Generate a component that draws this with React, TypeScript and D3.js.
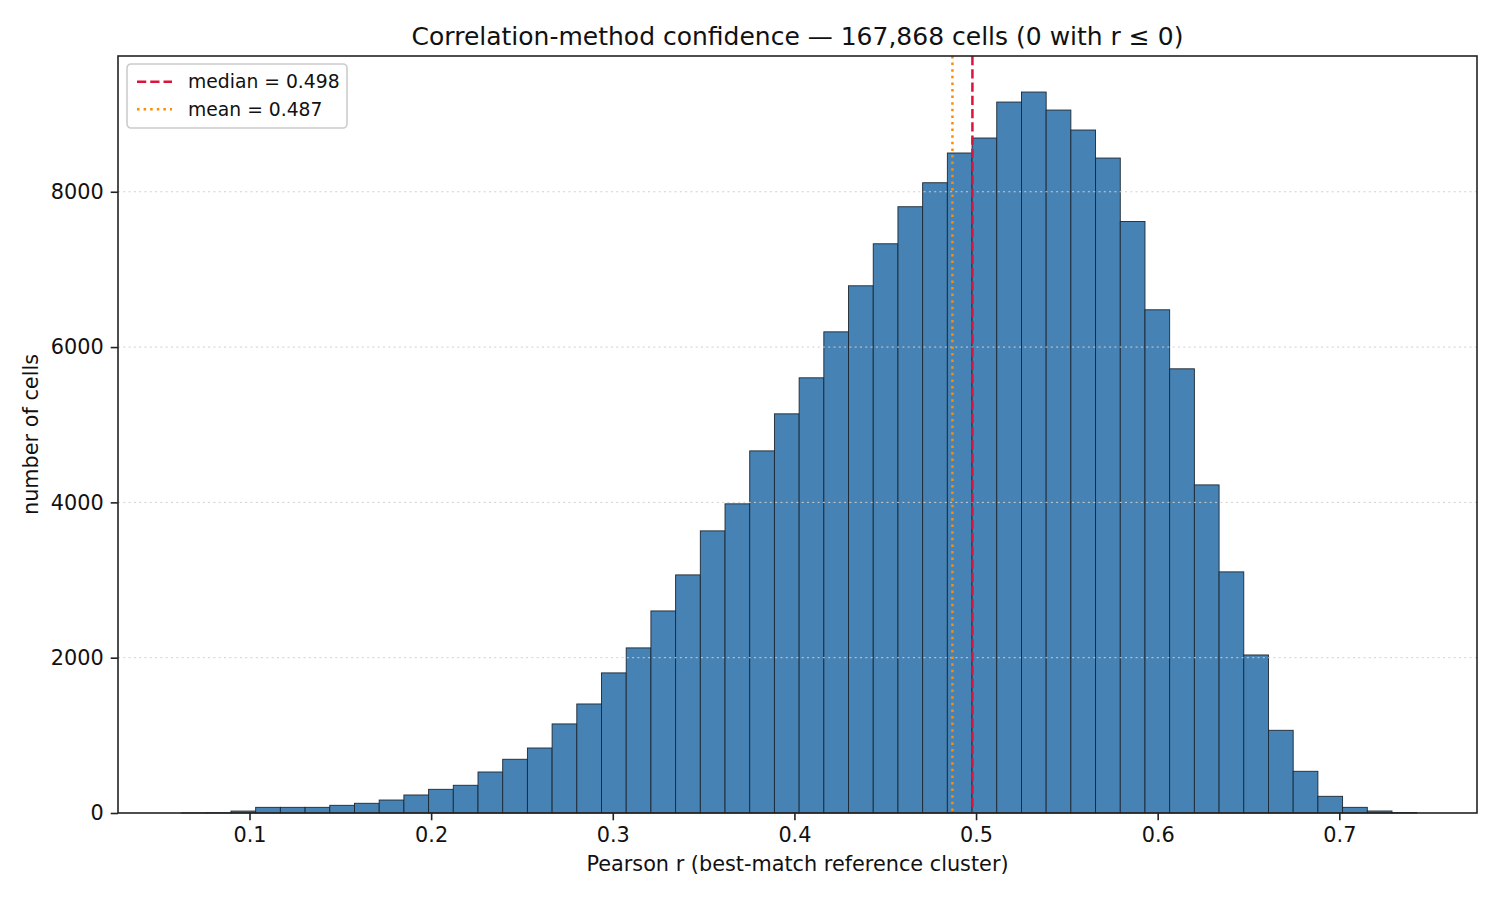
import * as d3 from 'd3'
import { useEffect, useRef } from 'react'

// histogram: 50 equal bins between rMin and rMax
const rMin = 0.0626
const rMax = 0.7426
const xLimits = [0.0276, 0.7758]
const counts = [
  1, 3, 25, 73, 73, 73, 99, 125, 167, 232,
  305, 357, 528, 692, 837, 1147, 1404, 1804, 2126, 2602,
  3066, 3633, 3981, 4663, 5140, 5604, 6196, 6789, 7330, 7807,
  8116, 8499, 8692, 9155, 9284, 9052, 8795, 8434, 7617, 6480,
  5720, 4225, 3105, 2035, 1065, 537, 215, 73, 26, 5,
]
const medianR = 0.498
const meanR = 0.487
const xTicks = [0.1, 0.2, 0.3, 0.4, 0.5, 0.6, 0.7]
const yTicks = [0, 2000, 4000, 6000, 8000]
const legendLabels = ['median = 0.498', 'mean = 0.487']

const W = 1500
const H = 900
const margin = { top: 56, right: 23, bottom: 87, left: 118 }
const FONT = 'DejaVu Sans, sans-serif'

export default function App() {
  const svgRef = useRef<SVGSVGElement | null>(null)

  useEffect(() => {
    if (!svgRef.current)
      return
    const root = d3.select(svgRef.current)
    root.selectAll('*').remove()

    const iw = W - margin.left - margin.right
    const ih = H - margin.top - margin.bottom
    const binW = (rMax - rMin) / counts.length
    const bins = counts.map((c, i) => ({ x0: rMin + i * binW, x1: rMin + (i + 1) * binW, c }))

    const x = d3.scaleLinear().domain(xLimits).range([0, iw])
    const y = d3.scaleLinear().domain([0, (d3.max(counts) || 0) * 1.05]).range([ih, 0])

    root.append('rect').attr('width', W).attr('height', H).attr('fill', '#fff')

    const g = root.append('g').attr('transform', `translate(${margin.left},${margin.top})`)

    // bars
    g.append('g')
      .selectAll('rect')
      .data(bins)
      .enter()
      .append('rect')
      .attr('x', d => x(d.x0))
      .attr('y', d => y(d.c))
      .attr('width', d => x(d.x1) - x(d.x0))
      .attr('height', d => ih - y(d.c))
      .attr('fill', '#4682b4')
      .attr('stroke', '#1c2833')
      .attr('stroke-width', 0.9)

    // grid (drawn above the bars like matplotlib)
    g.append('g')
      .selectAll('line')
      .data(yTicks.filter(t => t > 0))
      .enter()
      .append('line')
      .attr('x1', 0)
      .attr('x2', iw)
      .attr('y1', d => y(d))
      .attr('y2', d => y(d))
      .attr('stroke', '#cfcfcf')
      .attr('stroke-width', 1)
      .attr('stroke-dasharray', '2,3.3')

    // reference lines
    g.append('line')
      .attr('x1', x(meanR)).attr('x2', x(meanR))
      .attr('y1', 0).attr('y2', ih)
      .attr('stroke', '#ff8c00')
      .attr('stroke-width', 2.5)
      .attr('stroke-dasharray', '2.5,4.1')
    g.append('line')
      .attr('x1', x(medianR)).attr('x2', x(medianR))
      .attr('y1', 0).attr('y2', ih)
      .attr('stroke', '#dc143c')
      .attr('stroke-width', 2.5)
      .attr('stroke-dasharray', '9.25,4')

    // axes
    const xAxis = g.append('g')
      .attr('transform', `translate(0,${ih})`)
      .call(d3.axisBottom(x).tickValues(xTicks).tickFormat(d3.format('.1f')).tickSize(7.3).tickPadding(7))
    const yAxis = g.append('g')
      .call(d3.axisLeft(y).tickValues(yTicks).tickFormat(d3.format('d')).tickSize(7.3).tickPadding(7))
    for (const ax of [xAxis, yAxis]) {
      ax.select('.domain').remove()
      ax.selectAll('line').attr('stroke', '#222').attr('stroke-width', 1.6)
      ax.selectAll('text').attr('fill', '#111').style('font-family', FONT).style('font-size', '20.8px')
    }

    // spines
    g.append('rect')
      .attr('width', iw)
      .attr('height', ih)
      .attr('fill', 'none')
      .attr('stroke', '#222')
      .attr('stroke-width', 1.6)

    // title + labels
    root.append('text')
      .attr('x', margin.left + iw / 2)
      .attr('y', 45)
      .attr('text-anchor', 'middle')
      .style('font-family', FONT)
      .style('font-size', '25px')
      .attr('fill', '#111')
      .text('Correlation-method confidence — 167,868 cells (0 with r ≤ 0)')
    root.append('text')
      .attr('x', margin.left + iw / 2)
      .attr('y', 871)
      .attr('text-anchor', 'middle')
      .style('font-family', FONT)
      .style('font-size', '20.8px')
      .attr('fill', '#111')
      .text('Pearson r (best-match reference cluster)')
    root.append('text')
      .attr('transform', `translate(38,${margin.top + ih / 2}) rotate(-90)`)
      .attr('text-anchor', 'middle')
      .style('font-family', FONT)
      .style('font-size', '20.8px')
      .attr('fill', '#111')
      .text('number of cells')

    // legend
    const lg = root.append('g').attr('transform', 'translate(127,64)')
    lg.append('rect')
      .attr('width', 220)
      .attr('height', 64)
      .attr('rx', 4)
      .attr('fill', 'rgba(255,255,255,0.8)')
      .attr('stroke', '#cccccc')
      .attr('stroke-width', 1.6)
    const styles = [
      { color: '#dc143c', dash: '9.25,4' },
      { color: '#ff8c00', dash: '2.5,4.1' },
    ]
    legendLabels.forEach((lab, i) => {
      const cy = 17.7 + i * 27.6
      lg.append('line')
        .attr('x1', 10).attr('x2', 45)
        .attr('y1', cy).attr('y2', cy)
        .attr('stroke', styles[i].color)
        .attr('stroke-width', 2.5)
        .attr('stroke-dasharray', styles[i].dash)
      lg.append('text')
        .attr('x', 61)
        .attr('y', cy)
        .attr('dy', '0.36em')
        .style('font-family', FONT)
        .style('font-size', '18.75px')
        .attr('fill', '#111')
        .text(lab)
    })
  }, [])

  return (
    <div style={{ position: 'absolute', left: 0, top: 0 }}>
      <svg ref={svgRef} width={W} height={H} style={{ display: 'block' }}></svg>
    </div>
  )
}
